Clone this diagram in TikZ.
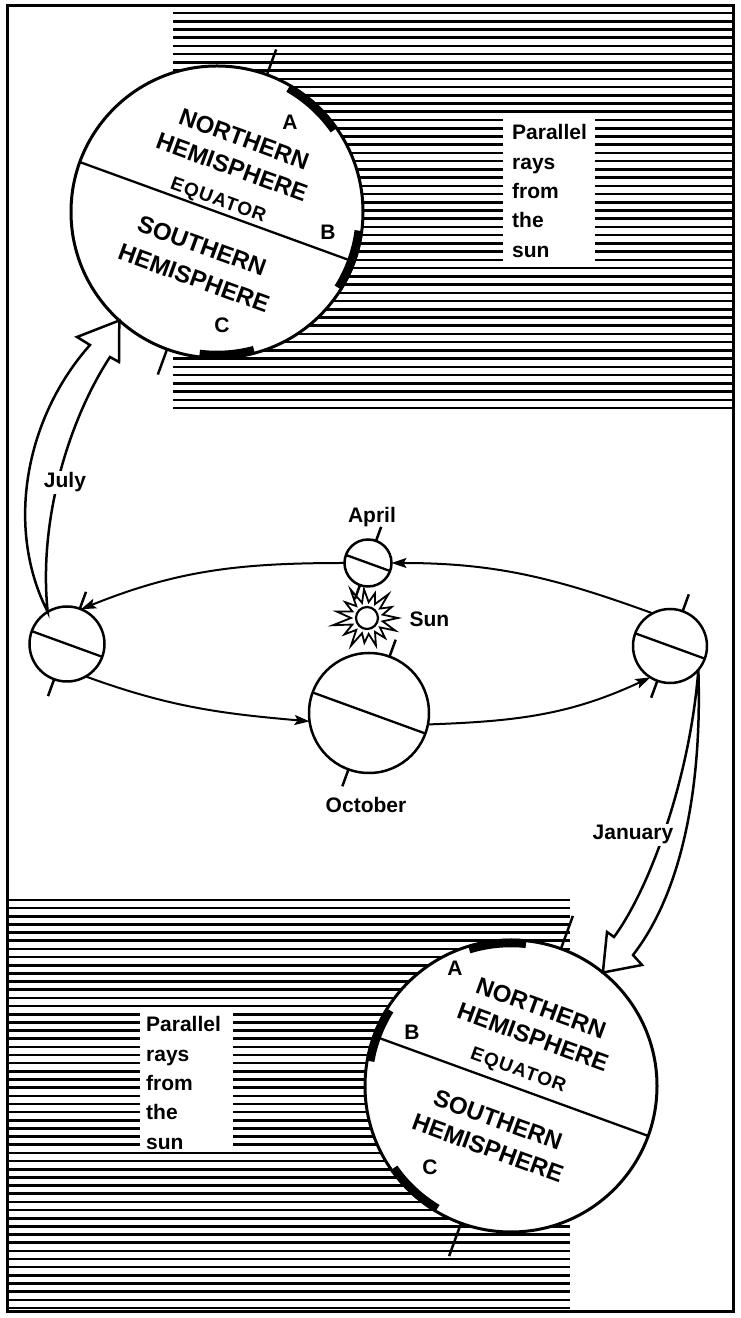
\documentclass[tikz,border=0pt]{standalone}
\usepackage{fontspec}
\setmainfont{Liberation Sans}
\usetikzlibrary{arrows.meta}
\begin{document}
\begin{tikzpicture}[x=1pt,y=1pt,
  globe/.style={circle, draw, fill=white, inner sep=0pt, outer sep=0pt},
  bigglobe/.style={globe, minimum size=292pt, line width=3pt},
  smallglobe/.style={globe, line width=2.5pt},
  ray/.style={line width=2.6pt},
  sunmark/.style={line width=8.5pt},
  stub/.style={line width=2.5pt},
  eqline/.style={line width=2.3pt},
  orbit/.style={line width=2pt, -{Stealth[length=15pt,width=10pt,inset=3pt]}},
  hollow/.style={draw, fill=white, line width=2.5pt, line join=miter},
  hemi/.style={font=\fontsize{24}{24}\selectfont\bfseries, rotate=-20, inner sep=0pt},
  eqlabel/.style={font=\fontsize{19}{19}\selectfont\bfseries\addfontfeature{LetterSpace=6}, rotate=-20, inner sep=0pt},
  lab/.style={font=\fontsize{21}{21}\selectfont\bfseries},
  raytext/.style={font=\fontsize{21}{29.3}\selectfont\bfseries, align=left, inner sep=0pt, anchor=north west},
]
\useasboundingbox (0,0) rectangle (740,1318);

% hatching: parallel rays from the sun
\foreach \i in {0,...,48} \draw[ray] (173,1305-\i*8.23) -- (733,1305-\i*8.23);
\foreach \i in {0,...,50} \draw[ray] (7.5,418-\i*8.16) -- (570,418-\i*8.16);

% frame
\draw[line width=3pt] (7.5,6) rectangle (733,1312);

% captions inside the hatching
\node[fill=white, minimum width=92pt, minimum height=145pt, inner sep=0pt, anchor=north west] (boxT) at (503,1201) {};
\node[raytext] (txtT) at (512,1193.5) {Parallel\\rays\\from\\the\\sun};
\node[fill=white, minimum width=93pt, minimum height=140pt, inner sep=0pt, anchor=north west] (boxB) at (140,308) {};
\node[raytext] (txtB) at (146,301.5) {Parallel\\rays\\from\\the\\sun};

% small globes along the orbit
\node[smallglobe, minimum size=75pt] (jul) at (67,674) {};
\node[smallglobe, minimum size=74pt] (jan) at (670,672) {};
\node[smallglobe, minimum size=120pt] (oct) at (369,605) {};
\node[smallglobe, minimum size=47pt] (apr) at (368,755) {};

% big globes
\node[bigglobe] (topG) at (217,1106) {};
\node[bigglobe] (botG) at (511,232) {};

% hollow arrows from the orbit to the big globes
\path[hollow] (jul.121) .. controls (5,790) and (25,900) .. (90,973) -- (77,981) -- (topG.228)
  -- (119,956) -- (110,961) .. controls (70,900) and (38,800) .. (jul.121) -- cycle;
\path[hollow] (jan.-40) .. controls (702,540) and (685,430) .. (633,363) -- (642,353) -- (botG.51)
  -- (607,386) -- (614,381) .. controls (650,430) and (690,540) .. (jan.-40) -- cycle;

% top big globe details
\draw[sunmark] ([shift={(35:143)}]topG.center) arc[start angle=35, end angle=60, radius=143];
\draw[sunmark] ([shift={(-32:143)}]topG.center) arc[start angle=-32, end angle=-7.5, radius=143];
\draw[sunmark] ([shift={(-97:143)}]topG.center) arc[start angle=-97, end angle=-75, radius=143];
\draw[eqline] (topG.160) -- (topG.-20);
\draw[stub] (topG.70) -- ++(70:27);
\draw[stub] (topG.250) -- ++(250:27);
\node[hemi] at ([shift={(27,73)}]topG.center) {NORTHERN};
\node[hemi] at ([shift={(15,45)}]topG.center) {HEMISPHERE};
\node[eqlabel] at ([shift={(1,11)}]topG.center) {EQUATOR};
\node[hemi] at ([shift={(-15,-34)}]topG.center) {SOUTHERN};
\node[hemi] at ([shift={(-23,-66)}]topG.center) {HEMISPHERE};
\node[lab] at (290,1196) {A};
\node[lab] at (328,1086) {B};
\node[lab] at (222,993) {C};

% bottom big globe details
\draw[sunmark] ([shift={(84:143)}]botG.center) arc[start angle=84, end angle=107, radius=143];
\draw[sunmark] ([shift={(148:143)}]botG.center) arc[start angle=148, end angle=170, radius=143];
\draw[sunmark] ([shift={(215:143)}]botG.center) arc[start angle=215, end angle=239, radius=143];
\draw[eqline] (botG.160) -- (botG.-20);
\draw[stub] (botG.70) -- ++(70:35);
\draw[stub] (botG.250) -- ++(250:35);
\node[hemi] at ([shift={(30,78)}]botG.center) {NORTHERN};
\node[hemi] at ([shift={(22,49)}]botG.center) {HEMISPHERE};
\node[eqlabel] at ([shift={(7,15)}]botG.center) {EQUATOR};
\node[hemi] at ([shift={(-13,-34)}]botG.center) {SOUTHERN};
\node[hemi] at ([shift={(-23,-62)}]botG.center) {HEMISPHERE};
\node[lab] at (455,350) {A};
\node[lab] at (412,286) {B};
\node[lab] at (430,151) {C};

% the sun
\coordinate (sunC) at (367,700);
\draw[line width=1.8pt, fill=white, line join=miter, miter limit=20]
  ([shift={(0:31)}]sunC)
  \foreach \a/\r in {12/16, 24/27, 36/16, 48/32, 60/16, 72/26, 84/16, 96/29, 108/16,
    120/33, 132/16, 144/27, 156/16, 168/31, 180/16, 192/35, 204/16, 216/28, 228/16,
    240/32, 252/16, 264/25, 276/16, 288/29, 300/16, 312/27, 324/16, 336/31, 348/16}
  { -- ([shift={(\a:\r)}]sunC) } -- cycle;
\node[circle, draw, fill=white, line width=2.2pt, minimum size=22pt, inner sep=0pt] (sun) at (sunC) {};
\node[lab, anchor=base west] at (406,691) {Sun};

% equators and axes of the small globes
\foreach \g/\s in {jul/18, jan/18, oct/18, apr/15} {
  \draw[eqline] (\g.160) -- (\g.-20);
  \draw[stub] (\g.70) -- ++(70:\s);
  \draw[stub] (\g.250) -- ++(250:\s);
}

% orbit
\draw[orbit] (apr.west) to[out=180, in=22] (jul.68);
\draw[orbit] (jan.118) to[out=160, in=0] (apr.east);
\draw[orbit] (jul.-60) to[out=-20, in=175] (oct.188);
\draw[orbit] (oct.-11) to[out=2, in=205] (jan.238);

% month labels
\node[lab, anchor=base] at (372,795) {April};
\node[lab, anchor=base] at (366,505) {October};
\node[lab, anchor=base, fill=white, inner sep=2pt] at (65,830) {July};
\node[lab, anchor=base, fill=white, inner sep=2pt] at (633,478) {January};
\end{tikzpicture}
\end{document}
